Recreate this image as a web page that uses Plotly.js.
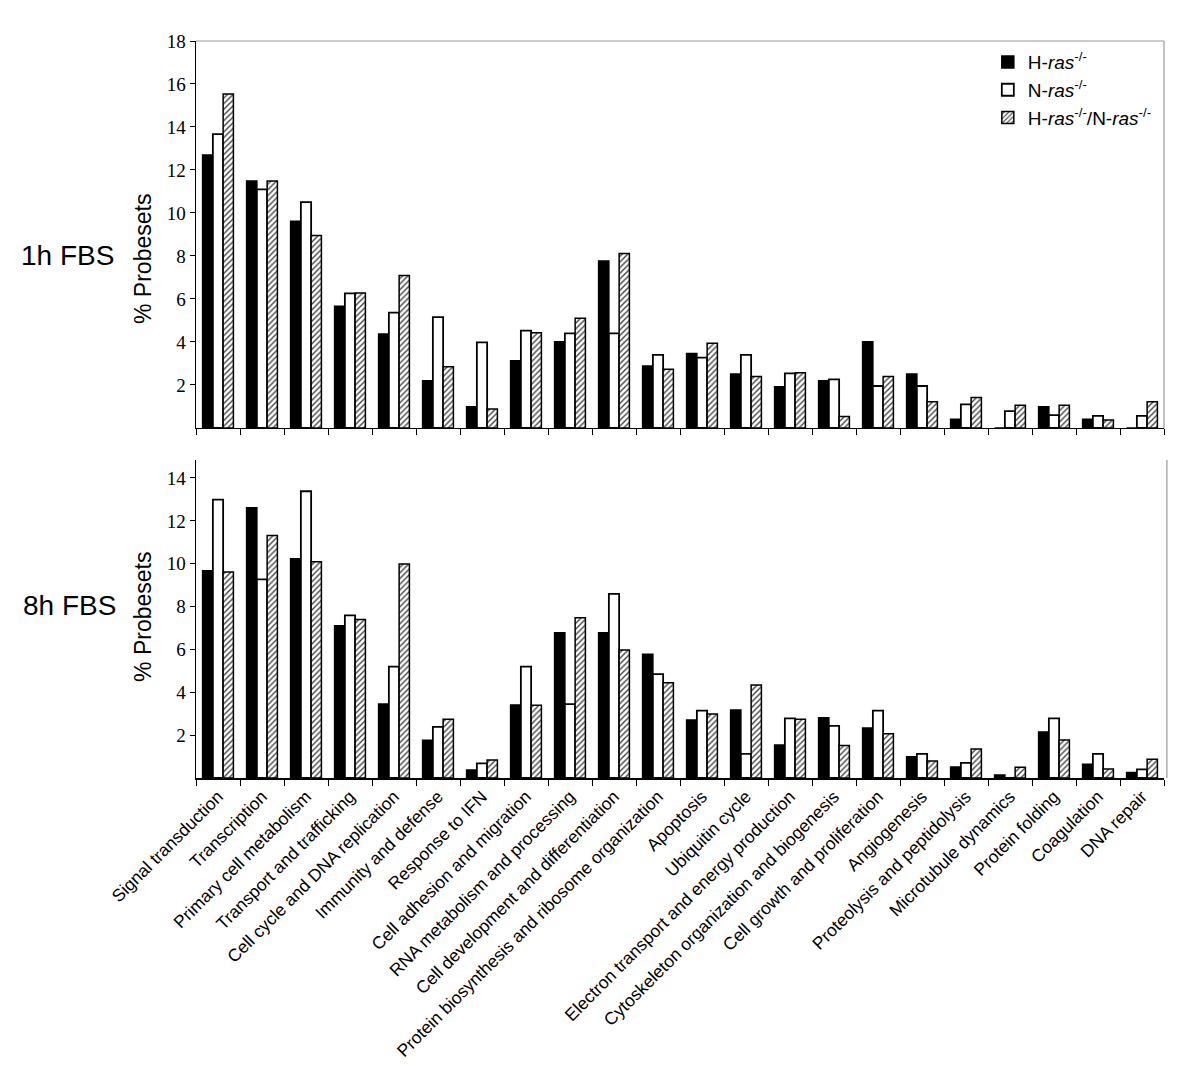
<!DOCTYPE html>
<html>
<head>
<meta charset="utf-8">
<script src="https://cdn.plot.ly/plotly-3.0.1.min.js"></script>
<style>
  html, body { margin: 0; padding: 0; background: #ffffff; }
  #chart { width: 1200px; height: 1067px; }
</style>
</head>
<body>
<div id="chart"></div>
<script>
const categories = [
  "Signal transduction", "Transcription", "Primary cell metabolism", "Transport and trafficking",
  "Cell cycle and DNA replication", "Immunity and defense", "Response to IFN",
  "Cell adhesion and migration", "RNA metabolism and processing", "Cell development and differentiation",
  "Protein biosynthesis and ribosome organization", "Apoptosis", "Ubiquitin cycle",
  "Electron transport and energy production", "Cytoskeleton organization and biogenesis",
  "Cell growth and proliferation", "Angiogenesis", "Proteolysis and peptidolysis",
  "Microtubule dynamics", "Protein folding", "Coagulation", "DNA repair"
];

const seriesNames = [
  "H-<i>ras</i><sup>-/-</sup>",
  "N-<i>ras</i><sup>-/-</sup>",
  "H-<i>ras</i><sup>-/-</sup>/N-<i>ras</i><sup>-/-</sup>"
];

// 1h FBS
const hras1h  = [12.70, 11.49, 9.61, 5.66, 4.37, 2.20, 0.99, 3.12, 4.01, 7.77, 2.88, 3.46, 2.51, 1.92, 2.20, 4.01, 2.51, 0.40, 0.00, 0.99, 0.40, 0.00];
const nras1h  = [13.67, 11.10, 10.50, 6.26, 5.36, 5.15, 3.98, 4.53, 4.40, 4.40, 3.40, 3.27, 3.40, 2.54, 2.26, 1.95, 1.95, 1.10, 0.78, 0.60, 0.56, 0.56];
const hnras1h = [15.53, 11.49, 8.95, 6.28, 7.09, 2.85, 0.88, 4.43, 5.10, 8.12, 2.73, 3.94, 2.39, 2.57, 0.53, 2.39, 1.22, 1.41, 1.06, 1.06, 0.37, 1.22];

// 8h FBS
const hras8h  = [9.67, 12.61, 10.23, 7.11, 3.45, 1.76, 0.37, 3.41, 6.78, 6.78, 5.77, 2.71, 3.17, 1.54, 2.81, 2.33, 0.99, 0.51, 0.14, 2.15, 0.64, 0.26];
const nras8h  = [12.99, 9.27, 13.38, 7.59, 5.20, 2.39, 0.68, 5.20, 3.45, 8.59, 4.85, 3.14, 1.13, 2.78, 2.43, 3.14, 1.13, 0.71, 0.00, 2.78, 1.13, 0.40];
const hnras8h = [9.61, 11.32, 10.09, 7.40, 9.99, 2.74, 0.84, 3.39, 7.48, 5.97, 4.45, 2.99, 4.34, 2.74, 1.52, 2.07, 0.79, 1.35, 0.50, 1.77, 0.42, 0.87];

const yTicksTop = [2, 4, 6, 8, 10, 12, 14, 16, 18];
const yTicksBottom = [2, 4, 6, 8, 10, 12, 14];

function barStyle(i) {
  if (i === 0) return {color: "#000000", line: {color: "#000000", width: 1.5}};
  if (i === 1) return {color: "#ffffff", line: {color: "#000000", width: 1.8}};
  return {color: "#ffffff", line: {color: "#000000", width: 1.5},
          pattern: {shape: "/", fgcolor: "#444444", bgcolor: "#ffffff", size: 4, solidity: 0.35}};
}

const topData = [hras1h, nras1h, hnras1h];
const botData = [hras8h, nras8h, hnras8h];

const traces = [];
topData.forEach((vals, i) => {
  traces.push({
    type: "bar", x: categories, y: vals, name: seriesNames[i],
    marker: barStyle(i), xaxis: "x", yaxis: "y", showlegend: true,
    legendgroup: "g" + i, hoverinfo: "skip"
  });
});
botData.forEach((vals, i) => {
  traces.push({
    type: "bar", x: categories, y: vals, name: seriesNames[i],
    marker: barStyle(i), xaxis: "x2", yaxis: "y2", showlegend: false,
    legendgroup: "g" + i, hoverinfo: "skip"
  });
});

const serif = "Liberation Serif";
const sans = "Liberation Sans";

const topDomain = [0.475, 1];
const botDomain = [0, 0.4315];

const layout = {
  width: 1200, height: 1067,
  margin: {l: 196, r: 36, t: 41, b: 289},
  paper_bgcolor: "#ffffff", plot_bgcolor: "#ffffff",
  barmode: "group", bargap: 0.3, bargroupgap: 0,
  font: {family: sans, color: "#000"},
  showlegend: true,
  legend: {
    x: 0.818, y: 0.997, xanchor: "left", yanchor: "top",
    font: {family: sans, size: 19, color: "#000"},
    bgcolor: "rgba(0,0,0,0)", borderwidth: 0, tracegroupgap: 0,
    traceorder: "normal", itemwidth: 30
  },
  xaxis: {
    domain: [0, 1], anchor: "y", type: "category",
    showline: true, linecolor: "#000", linewidth: 1.5,
    ticks: "outside", tickson: "boundaries", ticklen: 6, tickcolor: "#000", tickwidth: 1,
    showticklabels: false, showgrid: false, zeroline: false, automargin: false
  },
  yaxis: {
    domain: topDomain, anchor: "x", range: [0, 18],
    showline: true, linecolor: "#000", linewidth: 1.5,
    ticks: "outside", ticklen: 5, tickcolor: "#000", tickwidth: 1,
    tickmode: "array", tickvals: yTicksTop, ticktext: yTicksTop.map(String),
    tickfont: {family: serif, size: 19, color: "#000"},
    showgrid: false, zeroline: false, automargin: false
  },
  xaxis2: {
    domain: [0, 1], anchor: "y2", type: "category",
    showline: true, linecolor: "#000", linewidth: 1.5,
    ticks: "outside", tickson: "boundaries", ticklen: 6, tickcolor: "#000", tickwidth: 1,
    tickangle: -45, tickfont: {family: sans, size: 17.5, color: "#000"},
    showgrid: false, zeroline: false, automargin: false
  },
  yaxis2: {
    domain: botDomain, anchor: "x2", range: [0, 14.84],
    showline: true, linecolor: "#000", linewidth: 1.5,
    ticks: "outside", ticklen: 5, tickcolor: "#000", tickwidth: 1,
    tickmode: "array", tickvals: yTicksBottom, ticktext: yTicksBottom.map(String),
    tickfont: {family: serif, size: 19, color: "#000"},
    showgrid: false, zeroline: false, automargin: false
  },
  shapes: [
    {type: "line", xref: "paper", yref: "paper", x0: 0, x1: 1, y0: 1, y1: 1,
     line: {color: "#9a9a9a", width: 1.2}},
    {type: "line", xref: "paper", yref: "paper", x0: 1, x1: 1, y0: topDomain[0], y1: 1,
     line: {color: "#9a9a9a", width: 1.2}},
    {type: "line", xref: "paper", yref: "paper", x0: 1.003, x1: 1.003, y0: 0, y1: botDomain[1],
     line: {color: "#9a9a9a", width: 1.2}}
  ],
  annotations: [
    {text: "1h FBS", xref: "paper", yref: "paper", x: 0, y: 0.709,
     xanchor: "center", yanchor: "middle", showarrow: false, xshift: -129,
     font: {family: sans, size: 28, color: "#000"}},
    {text: "8h FBS", xref: "paper", yref: "paper", x: 0, y: 0.2334,
     xanchor: "center", yanchor: "middle", showarrow: false, xshift: -127,
     font: {family: sans, size: 28, color: "#000"}},
    {text: "% Probesets", xref: "paper", yref: "paper", x: 0, y: 0.7042,
     xanchor: "center", yanchor: "middle", showarrow: false, textangle: -90, xshift: -53,
     font: {family: sans, size: 23, color: "#000"}},
    {text: "% Probesets", xref: "paper", yref: "paper", x: 0, y: 0.2185,
     xanchor: "center", yanchor: "middle", showarrow: false, textangle: -90, xshift: -53,
     font: {family: sans, size: 23, color: "#000"}}
  ]
};

Plotly.newPlot("chart", traces, layout, {staticPlot: true, displayModeBar: false});
</script>
</body>
</html>
